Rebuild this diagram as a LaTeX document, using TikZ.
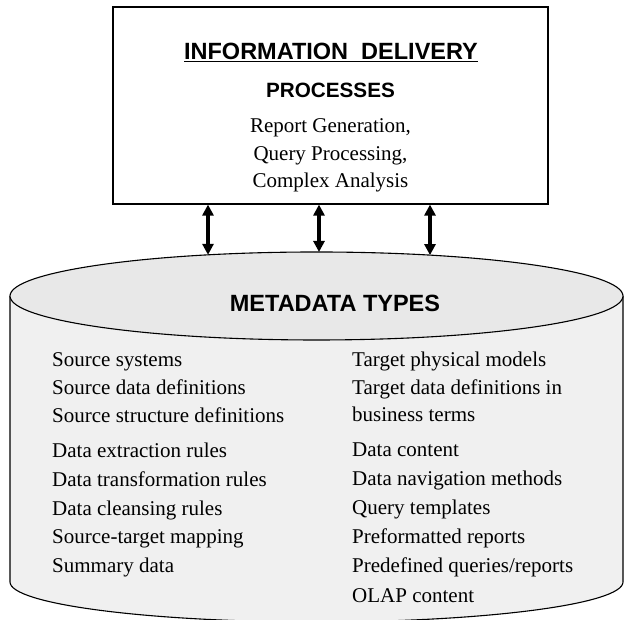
\documentclass[tikz,border=0pt]{standalone}
\usepackage{fontspec}
\setmainfont{Liberation Serif}
\setsansfont{Liberation Sans}
\usepackage{tikz}
\usetikzlibrary{positioning,arrows.meta}

\begin{document}
\begin{tikzpicture}[
    x=1pt, y=1pt,
    head/.style={font=\sffamily\bfseries\fontsize{23.5}{26}\selectfont, anchor=base, inner sep=0pt},
    subhead/.style={font=\sffamily\bfseries\fontsize{20.7}{24}\selectfont, anchor=base, inner sep=0pt},
    item/.style={font=\fontsize{21}{25}\selectfont, anchor=base west, inner sep=0pt},
    procbox/.style={draw, line width=1.2pt, minimum width=435pt, minimum height=197pt, inner sep=0pt},
    cyl/.style={draw, line width=1.1pt, fill=black!6},
    arrow/.style={{Triangle[length=11pt,width=11pt]}-{Triangle[length=11pt,width=11pt]}, line width=3.2pt}
  ]
    \useasboundingbox (0,0) rectangle (627,620);

    % delivery box
    \node[procbox] (delivery) at (330.5,514.5) {};
    \node[head] (title) at (331,560) {\underline{INFORMATION\ \ DELIVERY}};
    \node[subhead] (processes) at (330.5,522) {PROCESSES};
    \node[item, anchor=base] (proc1) at (330.5,487) {Report Generation,};
    \node[item, anchor=base] (proc2) at (330.5,459) {Query Processing,};
    \node[item, anchor=base] (proc3) at (330.5,432) {Complex Analysis};

    % metadata cylinder
    \filldraw[cyl] (10,324) -- (10,38) arc[start angle=180, end angle=360, x radius=306.5, y radius=40] -- (623,324);
    \filldraw[cyl, fill=black!9] (316.5,324) ellipse[x radius=306.5, y radius=44];
    \node[head] (meta) at (335,308) {METADATA TYPES};

    \node[item] (src1) at (52,253) {Source systems};
    \node[item] (src2) at (52,225) {Source data definitions};
    \node[item] (src3) at (52,197) {Source structure definitions};
    \node[item] (src4) at (52,162) {Data extraction rules};
    \node[item] (src5) at (52,133) {Data transformation rules};
    \node[item] (src6) at (52,104) {Data cleansing rules};
    \node[item] (src7) at (52,76) {Source-target mapping};
    \node[item] (src8) at (52,47) {Summary data};

    \node[item] (tgt1) at (352,253) {Target physical models};
    \node[item] (tgt2) at (352,225) {Target data definitions in};
    \node[item] (tgt3) at (352,198) {business terms};
    \node[item] (tgt4) at (352,163) {Data content};
    \node[item] (tgt5) at (352,134) {Data navigation methods};
    \node[item] (tgt6) at (352,105) {Query templates};
    \node[item] (tgt7) at (352,76) {Preformatted reports};
    \node[item] (tgt8) at (352,47) {Predefined queries/reports};
    \node[item] (tgt9) at (352,17) {OLAP content};

    % links between box and cylinder top
    \foreach \x [count=\i] in {208,319,430} {
      \pgfmathsetmacro{\ytop}{324+44*sqrt(1-((\x-316.5)/306.5)^2)}
      \coordinate (rim\i) at (\x,\ytop);
      \draw[arrow] (delivery.south -| rim\i) -- (rim\i);
    }
  \end{tikzpicture}
\end{document}
